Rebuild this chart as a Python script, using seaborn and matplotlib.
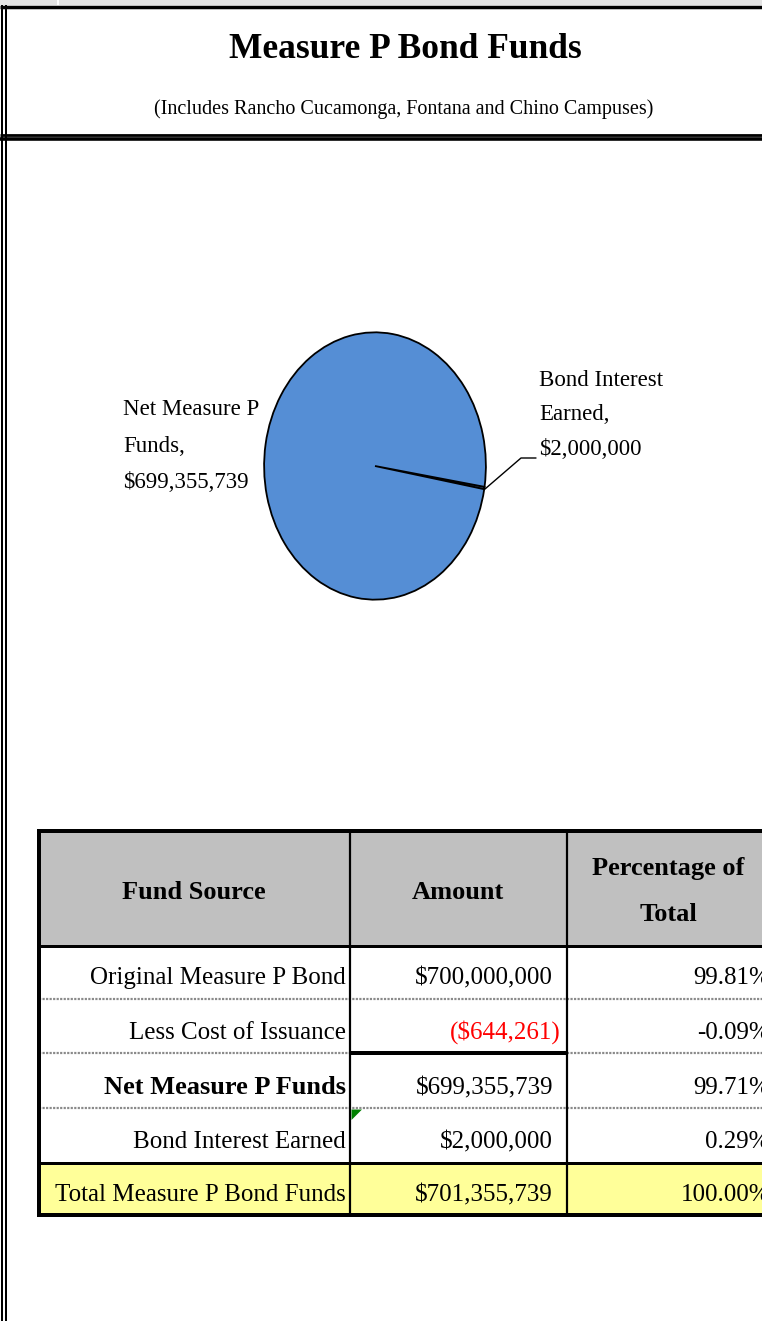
import numpy as np
import pandas as pd
import matplotlib
matplotlib.use("Agg")
import matplotlib.pyplot as plt
import seaborn as sns

# pie data
pie_labels = ["Bond Interest\nEarned,", "Net Measure P\nFunds,"]
pie_values = [2000000, 699355739]

# table data
col_headers = ["Fund Source", "Amount", "Percentage of\nTotal"]
fund_sources = ["Original Measure P Bond", "Less Cost of Issuance", "Net Measure P Funds",
                "Bond Interest Earned", "Total Measure P Bond Funds"]
amounts = [700000000, -644261, 699355739, 2000000, 701355739]
percents = [99.81, -0.09, 99.71, 0.29, 100.00]

title = "Measure P Bond Funds"
subtitle = "(Includes Rancho Cucamonga, Fontana and Chino Campuses)"

sns.set_theme(style="white")
plt.rcParams['font.family'] = ['Liberation Serif', 'DejaVu Serif']
plt.rcParams['text.color'] = 'black'

W, H = 762, 1321
fig = plt.figure(figsize=(W / 100, H / 100), dpi=100)
fig.patch.set_facecolor("white")

# background axes in pixel coords (y down)
ax = fig.add_axes([0, 0, 1, 1])
ax.set_xlim(0, W)
ax.set_ylim(H, 0)
ax.axis("off")


def money(v):
    s = "${:,.0f}".format(abs(v))
    return "(" + s + ")" if v < 0 else s


px = 1 / 1.389  # pixel -> points

# page frame
ax.add_patch(plt.Rectangle((0, 0), W, 4.5, color="#e3e3e3", lw=0))
ax.add_patch(plt.Rectangle((57, 0), 2, 4.5, color="white", lw=0))
ax.hlines(6.5, 0, W, color="black", lw=3.5 * px)
ax.vlines([2, 6], 5, H, color="black", lw=2 * px)
ax.hlines(134.7, 0, W, color="black", lw=2.8 * px)
ax.hlines(139.3, 0, W, color="black", lw=3.6 * px)

ax.text(405, 58, title, ha="center", va="baseline", fontsize=25.5, fontweight="bold")
ax.text(404, 114, subtitle, ha="center", va="baseline", fontsize=14.5)

# pie
pax = fig.add_axes([263 / W, 1 - 601 / H, 224 / W, 270 / H])
wedges, _ = pax.pie(pie_values, startangle=-10, counterclock=True,
                    colors=["#558ed5", "#558ed5"],
                    wedgeprops=dict(edgecolor="black", linewidth=1.3))
pax.set_aspect("auto")
pax.set_xlim(-1.01, 1.01)
pax.set_ylim(-1.01, 1.01)
pax.axis("off")

# data labels
ax.text(123, 446, pie_labels[1] + "\n" + money(pie_values[1]), ha="left", va="center",
        fontsize=16.5, linespacing=1.98)
ax.text(539, 415, pie_labels[0] + "\n" + money(pie_values[0]), ha="left", va="center",
        fontsize=16.5, linespacing=1.85)
ax.plot([485, 521, 536], [489, 458, 458], color="black", lw=1.0)

# table
cx = [38.5, 350, 566.5, 790]
ry = [831, 945.5, 999, 1053, 1108, 1162.5, 1215]

ax.add_patch(plt.Rectangle((cx[0], ry[0]), cx[3] - cx[0], ry[1] - ry[0], color="#c0c0c0", lw=0))
ax.add_patch(plt.Rectangle((cx[0], ry[5]), cx[3] - cx[0], ry[6] - ry[5], color="#ffff99", lw=0))

# header text
ax.text((cx[0] + cx[1]) / 2, 899, col_headers[0], ha="center", va="baseline",
        fontsize=19, fontweight="bold")
ax.text((cx[1] + cx[2]) / 2, 899, col_headers[1], ha="center", va="baseline",
        fontsize=19, fontweight="bold")
hl = col_headers[2].split("\n")
ax.text(668, 875, hl[0], ha="center", va="baseline", fontsize=19, fontweight="bold")
ax.text(668, 921, hl[1], ha="center", va="baseline", fontsize=19, fontweight="bold")

baselines = [984, 1039, 1094, 1148, 1201]
for i, (src, amt, pct) in enumerate(zip(fund_sources, amounts, percents)):
    b = baselines[i]
    ax.text(346, b, src, ha="right", va="baseline", fontsize=19 if i == 2 else 18,
            fontweight="bold" if i == 2 else "normal")
    ax.text(561 if amt < 0 else 553, b, money(amt), ha="right", va="baseline", fontsize=18,
            color="#ff0000" if amt < 0 else "black")
    ax.text(770, b, "{:.2f}%".format(pct), ha="right", va="baseline", fontsize=18)

# grid lines
for y in [ry[2], ry[3], ry[4]]:
    ax.hlines(y, cx[0], cx[3], color="#8a8a8a", lw=2.2 * px, linestyles=(0, (1, 0.6)))
ax.hlines(ry[3] - 0.5, cx[1], cx[2], color="black", lw=4 * px)
ax.hlines(ry[1], cx[0], cx[3], color="black", lw=3 * px)
ax.hlines(ry[5], cx[0], cx[3], color="black", lw=3 * px)
ax.vlines([cx[1], cx[2]], ry[0], ry[6], color="black", lw=2.2 * px)
ax.hlines([ry[0], ry[6]], cx[0] - 1.5, cx[3], color="black", lw=4 * px)
ax.vlines(cx[0], ry[0], ry[6], color="black", lw=4 * px)
ax.add_patch(plt.Polygon([[351.5, 1109.5], [362, 1109.5], [351.5, 1120]], color="#008000", lw=0))

fig.savefig("out.png", dpi=100, facecolor="white")
